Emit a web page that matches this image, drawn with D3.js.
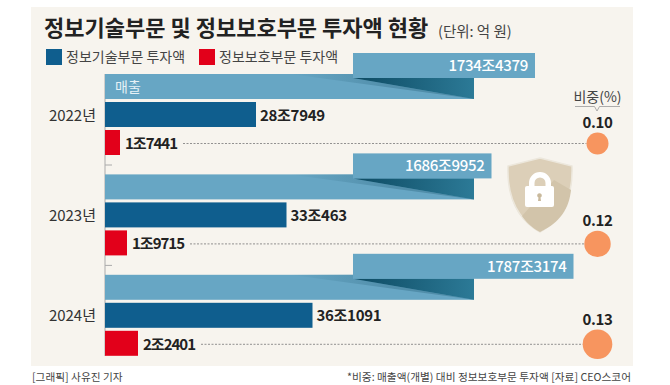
<!DOCTYPE html>
<html>
<head>
<meta charset="utf-8">
<script src="https://cdn.jsdelivr.net/npm/d3@7"></script>
<style>
  body { margin: 0; background: #fff; }
  text { font-family: "Noto Sans CJK KR", "Noto Sans", sans-serif; }
</style>
</head>
<body>
<div id="chart"></div>
<script>
// values in 억 원
const years = ["2022년", "2023년", "2024년"];
const revenue = [17344379, 16869952, 17873174];
const itInvest = [287949, 330463, 361091];
const secInvest = [17441, 19715, 22401];
const shares = [0.10, 0.12, 0.13];
const legendLabels = ["정보기술부문 투자액", "정보보호부문 투자액"];

const config = {
  width: 670,
  height: 385,
  axisX: 105,
  ribbonEnd: 474,
  rowStep: 100.4,
  barH: 25,
  dotX: 597.5,
  blue: "#0f5e8e",
  red: "#e2001a",
  band: "#67a6c4",
  orange: "#f7955f"
};

const fmt = v => Math.floor(v / 10000) + "조" + (v % 10000);
const asc = a => a.slice().sort(d3.ascending);

// the bars in the source graphic are not to a common scale, so each series gets its own
const xRev = d3.scaleLinear().domain(asc(revenue)).range([491.5, 535, 573.5]);
const xIt = d3.scaleLinear().domain(itInvest).range([256, 286.5, 312.5]);
const xSec = d3.scaleLinear().domain(secInvest).range([120, 127, 138]);
const rShare = d3.scaleLinear().domain(shares).range([11, 13.2, 14.8]);
const yRow = d3.scaleLinear().domain([0, 1]).range([0, config.rowStep]);

const svg = d3.select("#chart").append("svg")
  .attr("width", config.width)
  .attr("height", config.height)
  .style("display", "block");

const defs = svg.append("defs");

function addGradient(id, stops) {
  const g = defs.append("linearGradient").attr("id", id);
  stops.forEach(s => g.append("stop")
    .attr("offset", s[0])
    .attr("stop-color", s[1])
    .attr("stop-opacity", s[2]));
}
addGradient("foldDark", [[0, "#0d4a62", 1], [1, "#2c7a97", 1]]);
addGradient("foldSoft", [[0, "#4f8ca8", 0], [0.55, "#4f8ca8", 0.9], [1, "#4f8ca8", 1]]);

// panel
svg.append("rect")
  .attr("x", 31).attr("y", 7)
  .attr("width", 602).attr("height", 359)
  .attr("fill", "#f7f4ee");

// title
svg.append("text")
  .attr("x", 44).attr("y", 36)
  .attr("font-size", 22).attr("font-weight", 700)
  .attr("fill", "#222")
  .text("정보기술부문 및 정보보호부문 투자액 현황");
svg.append("text")
  .attr("x", 438).attr("y", 36.5)
  .attr("font-size", 14.5)
  .attr("fill", "#444")
  .text("(단위: 억 원)");

// legend
const legend = svg.append("g").selectAll("g")
  .data(legendLabels)
  .join("g")
  .attr("transform", (d, i) => `translate(${i ? 199 : 46},49)`);
legend.append("rect")
  .attr("width", 16).attr("height", 16)
  .attr("fill", (d, i) => i ? config.red : config.blue);
legend.append("text")
  .attr("x", 20).attr("y", 13)
  .attr("font-size", 14)
  .attr("fill", "#444")
  .text(d => d);

// axis line and small ticks
svg.append("line")
  .attr("x1", config.axisX).attr("x2", config.axisX)
  .attr("y1", 74).attr("y2", 356)
  .attr("stroke", "#aaa");
[0, 1].forEach(i => {
  svg.append("line")
    .attr("x1", config.axisX).attr("x2", config.axisX + 7)
    .attr("y1", 165 + yRow(i)).attr("y2", 165 + yRow(i))
    .attr("stroke", "#aaa");
});

// one group per year
const rows = svg.append("g").selectAll("g")
  .data(years)
  .join("g")
  .attr("transform", (d, i) => `translate(0,${yRow(i)})`);

// lower ribbon
rows.append("rect")
  .attr("x", config.axisX).attr("y", 74)
  .attr("width", config.ribbonEnd - config.axisX).attr("height", config.barH)
  .attr("fill", config.band);
rows.append("path")
  .attr("d", `M290,74L353,74L353,78L${config.ribbonEnd},99Z`)
  .attr("fill", "url(#foldSoft)");
rows.append("path")
  .attr("d", `M353,78L${config.ribbonEnd},78L${config.ribbonEnd},99Z`)
  .attr("fill", "url(#foldDark)");

// upper ribbon, length from revenue
rows.append("rect")
  .attr("x", 353).attr("y", 53)
  .attr("width", (d, i) => xRev(revenue[i]) - 353).attr("height", config.barH)
  .attr("fill", config.band);
rows.append("text")
  .attr("x", (d, i) => xRev(revenue[i]) - 7).attr("y", 71)
  .attr("text-anchor", "end")
  .attr("font-size", 15).attr("font-weight", 500)
  .attr("letter-spacing", -0.3)
  .attr("fill", "#fff")
  .text((d, i) => fmt(revenue[i]));

// year label
rows.append("text")
  .attr("x", 96).attr("y", 120.5)
  .attr("text-anchor", "end")
  .attr("font-size", 15)
  .attr("fill", "#333")
  .text(d => d);

// IT investment
rows.append("rect")
  .attr("x", config.axisX).attr("y", 102)
  .attr("width", (d, i) => xIt(itInvest[i]) - config.axisX).attr("height", config.barH)
  .attr("fill", config.blue);
rows.append("text")
  .attr("x", (d, i) => xIt(itInvest[i]) + 4).attr("y", 120.5)
  .attr("font-size", 15).attr("font-weight", 700)
  .attr("letter-spacing", -0.3)
  .attr("fill", "#222")
  .text((d, i) => fmt(itInvest[i]));

// security investment
rows.append("rect")
  .attr("x", config.axisX).attr("y", 130)
  .attr("width", (d, i) => xSec(secInvest[i]) - config.axisX).attr("height", config.barH)
  .attr("fill", config.red);
rows.append("text")
  .attr("x", (d, i) => xSec(secInvest[i]) + 5).attr("y", 149)
  .attr("font-size", 15).attr("font-weight", 700)
  .attr("letter-spacing", -1)
  .attr("fill", "#222")
  .text((d, i) => fmt(secInvest[i]));

// dotted leader to the circle
rows.append("line")
  .attr("x1", (d, i) => xSec(secInvest[i]) + 63)
  .attr("x2", (d, i) => config.dotX - rShare(shares[i]))
  .attr("y1", 143.5).attr("y2", 143.5)
  .attr("stroke", "#777")
  .attr("stroke-dasharray", "2 1.5")
  .attr("stroke-width", 0.8);

// share circle and value
rows.append("circle")
  .attr("cx", config.dotX).attr("cy", 143.5)
  .attr("r", (d, i) => rShare(shares[i]))
  .attr("fill", config.orange);
rows.append("text")
  .attr("x", config.dotX).attr("y", (d, i) => 143.5 - rShare(shares[i]) - 4.5)
  .attr("text-anchor", "middle")
  .attr("font-size", 15).attr("font-weight", 700)
  .attr("letter-spacing", -0.4)
  .attr("fill", "#222")
  .text((d, i) => shares[i].toFixed(2));

// 매출 tag on first ribbon
svg.append("text")
  .attr("x", 115).attr("y", 92)
  .attr("font-size", 14)
  .attr("fill", "#e6f1f6")
  .text("매출");

// 비중 header
svg.append("text")
  .attr("x", config.dotX).attr("y", 102)
  .attr("text-anchor", "middle")
  .attr("font-size", 14)
  .attr("fill", "#444")
  .text("비중(%)");
svg.append("path")
  .attr("d", "M575,106.5H594.5L597,111L599.5,106.5H620")
  .attr("fill", "none")
  .attr("stroke", "#999")
  .attr("stroke-width", 0.8);

// shield with lock
const icon = svg.append("g");
const shield = "M540,158L572,166C573,195 565,218 540,232C515,218 507,195 508,166Z";
icon.append("path")
  .attr("d", shield)
  .attr("fill", "#dccfb8")
  .attr("stroke", "#ece7dc")
  .attr("stroke-width", 1.5);
icon.append("path")
  .attr("d", "M554,180L571,190C569,208 561,222 540,232C532,228 526,222 522,216Z")
  .attr("fill", "#d2c4aa");
icon.append("path")
  .attr("d", "M529,187V183A11,11 0 0 1 551,183V187H545.5V183A5.5,5.5 0 0 0 534.5,183V187Z")
  .attr("fill", "#fff");
icon.append("rect")
  .attr("x", 525).attr("y", 186)
  .attr("width", 29).attr("height", 21)
  .attr("rx", 2)
  .attr("fill", "#fff");
icon.append("path")
  .attr("d", "M538.5,197.5L538,201H541L540.5,197.5A2.3,2.3 0 1 0 538.5,197.5Z")
  .attr("fill", "#c9b99c");

// footer
svg.append("text")
  .attr("x", 32).attr("y", 381)
  .attr("font-size", 10.7)
  .attr("fill", "#444")
  .text("[그래픽] 사유진 기자");
svg.append("text")
  .attr("x", 631).attr("y", 381)
  .attr("text-anchor", "end")
  .attr("font-size", 10.7)
  .attr("fill", "#444")
  .text("*비중: 매출액(개별) 대비 정보보호부문 투자액  [자료] CEO스코어");
</script>
</body>
</html>
